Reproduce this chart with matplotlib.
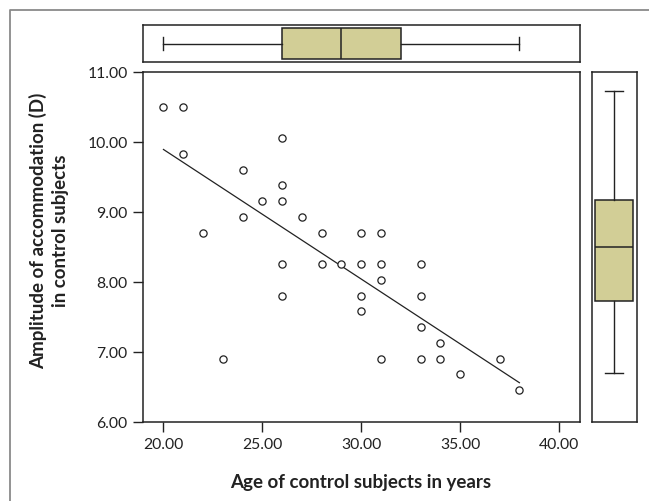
import numpy as np
import matplotlib
matplotlib.use('Agg')
import matplotlib.pyplot as plt
from matplotlib.lines import Line2D
from matplotlib.ticker import FormatStrFormatter

plt.rcParams['font.family'] = ['Lato', 'DejaVu Sans']

# age (years) and amplitude of accommodation (D) of control subjects
age = [20, 21, 21, 26, 24, 26, 25, 26, 24, 27, 22, 28, 30, 31, 26, 28, 29,
       30, 31, 33, 31, 26, 30, 33, 30, 33, 34, 23, 31, 33, 34, 37, 35, 38]
amp = [10.50, 10.50, 9.83, 10.05, 9.60, 9.38, 9.15, 9.15, 8.93, 8.93, 8.70,
       8.70, 8.70, 8.70, 8.25, 8.25, 8.25, 8.25, 8.25, 8.25, 8.03, 7.80, 7.80,
       7.80, 7.58, 7.35, 7.13, 6.90, 6.90, 6.90, 6.90, 6.90, 6.68, 6.45]

# marginal box plot statistics
age_box = dict(whislo=20, q1=26, med=29, q3=32, whishi=38, fliers=[])
amp_box = dict(whislo=6.70, q1=7.72, med=8.49, q3=9.17, whishi=10.73, fliers=[])

xticks = [20, 25, 30, 35, 40]
yticks = [6, 7, 8, 9, 10, 11]

W, H = 649, 502
fig = plt.figure(figsize=(W / 100, H / 100), dpi=100)


def rect(l, t, r, b):
    return [l / W, 1 - b / H, (r - l) / W, (b - t) / H]


ink = '#222222'
fill = '#d2ce96'

ax = fig.add_axes(rect(142.7, 72.7, 579.7, 422.7))
axt = fig.add_axes(rect(142.7, 25.7, 579.7, 63.3))
axr = fig.add_axes(rect(591.7, 72.7, 637, 422.7))

ax.plot(age, amp, 'o', ms=5.2, mfc='white', mec=ink, mew=0.9, zorder=3)
k, c = np.polyfit(age, amp, 1)
xs = np.array([min(age), max(age)])
ax.plot(xs, k * xs + c, color=ink, lw=0.9)

ax.set_xlim(18.95, 41.05)
ax.set_ylim(6, 11)
ax.set_xticks(xticks)
ax.set_yticks(yticks)
ax.xaxis.set_major_formatter(FormatStrFormatter('%.2f'))
ax.yaxis.set_major_formatter(FormatStrFormatter('%.2f'))
ax.tick_params(length=7, width=1, color=ink, labelsize=11.3, labelcolor='#222222', pad=4)
for s in ax.spines.values():
    s.set_color(ink)
    s.set_linewidth(1.1)

bs = dict(patch_artist=True, showfliers=False,
          boxprops=dict(facecolor=fill, edgecolor=ink, linewidth=1.1),
          medianprops=dict(color=ink, linewidth=1.1),
          whiskerprops=dict(color=ink, linewidth=1.0),
          capprops=dict(color=ink, linewidth=1.0))
axt.bxp([age_box], positions=[1], widths=0.8, vert=False, capwidths=0.37, **bs)
axt.set_xlim(ax.get_xlim())
axt.set_ylim(0.5, 1.5)
axr.bxp([amp_box], positions=[1], widths=0.84, vert=True, capwidths=0.40, **bs)
axr.set_ylim(ax.get_ylim())
axr.set_xlim(0.5, 1.5)
for a in (axt, axr):
    a.set_xticks([])
    a.set_yticks([])
    for s in a.spines.values():
        s.set_color(ink)
        s.set_linewidth(1.1)

fig.text(361 / W, 1 - 483 / H, 'Age of control subjects in years', ha='center', va='center',
         fontsize=13.5, fontweight='bold', color='#222222')
fig.text(49 / W, 1 - 231 / H, 'Amplitude of accommodation (D)\nin control subjects',
         ha='center', va='center', rotation=90, fontsize=13.5, fontweight='bold',
         color='#222222', linespacing=1.4, multialignment='center')

# open outer frame
fig.add_artist(Line2D([9.5 / W, 9.5 / W, 1], [0, 1 - 11 / H, 1 - 11 / H],
                      transform=fig.transFigure, color='#8a8a8a', lw=1.3))

fig.savefig('out.png', dpi=100)
